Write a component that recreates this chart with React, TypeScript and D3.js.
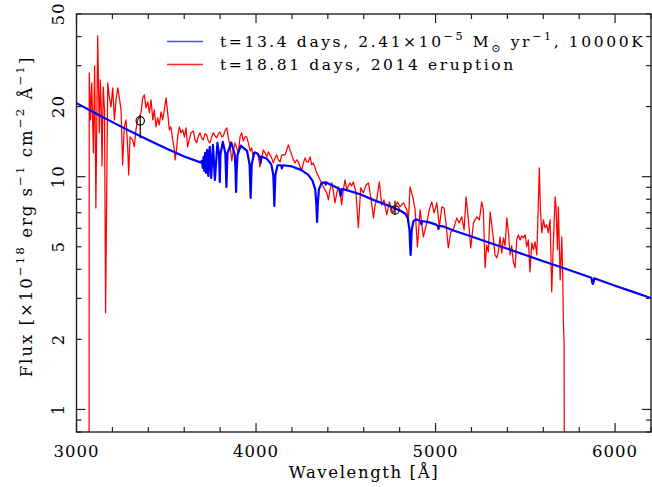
import React from 'react';
import * as d3 from 'd3';

const W = 652;
const H = 487;
const PL = 76.5, PR = 651, PT = 14, PB = 432;

const xDomain = [3000, 6200];
const yDomain = [0.8, 50];
const xLabelTicks = [3000, 4000, 5000, 6000];
const yLabelTicks = [1, 2, 5, 10, 20, 50];

// Model spectrum (blue)
const modelWave = [
  3000, 3100, 3200, 3300, 3400, 3500, 3600, 3690, 3697, 3704, 3708, 3712, 3717, 3722, 3728, 3734,
  3742, 3750, 3760, 3771, 3785, 3794, 3798, 3802, 3815, 3829, 3835, 3841, 3862, 3882, 3886, 3889,
  3892, 3897, 3915, 3950, 3964, 3967, 3970, 3973, 3976, 3990, 4010, 4022, 4026, 4030, 4060, 4085,
  4096, 4099, 4102, 4105, 4108, 4120, 4140, 4144, 4150, 4200, 4250, 4290, 4315, 4330, 4336, 4340,
  4344, 4350, 4365, 4385, 4388, 4392, 4440, 4464, 4468, 4471, 4474, 4478, 4500, 4580, 4653, 4728,
  4802, 4830, 4845, 4855, 4858, 4861, 4864, 4867, 4877, 4890, 4917, 4921, 4925, 4960, 5000, 5012,
  5016, 5020, 5040, 5100, 5200, 5300, 5400, 5500, 5600, 5700, 5800, 5868, 5873, 5876, 5879, 5884,
  6000, 6100, 6200,
];
const modelFlux = [
  20.7, 18.84, 17.16, 15.67, 14.39, 13.23, 12.21, 11.52, 11.69, 10.91, 12.17, 10.59, 12.66, 10.38, 13.04, 10.08,
  13.43, 9.88, 13.7, 9.69, 13.98, 12.5, 9.5, 12.5, 14.11, 12.6, 9.04, 12.6, 14.03, 12.4, 10.5, 8.6,
  10.5, 12.4, 13.6, 12.9, 11.3, 9.6, 8.11, 9.6, 11.3, 12.7, 12.55, 12.1, 11.5, 12.2, 11.95, 11.3,
  10.2, 8.9, 7.49, 8.9, 10.2, 11.2, 11.2, 10.85, 11.2, 11.07, 10.7, 10.2, 9.6, 8.8, 7.6, 6.39,
  7.6, 8.8, 9.4, 9.45, 9.25, 9.45, 9.05, 8.85, 8.5, 8.27, 8.5, 8.85, 8.78, 8.41, 7.95, 7.56,
  7.16, 6.95, 6.65, 5.9, 5.1, 4.61, 5.1, 5.9, 6.45, 6.56, 6.45, 6.25, 6.45, 6.38, 6.24, 6.15,
  5.96, 6.15, 6.12, 5.87, 5.53, 5.2, 4.9, 4.61, 4.33, 4.08, 3.84, 3.68, 3.5, 3.46, 3.5, 3.66,
  3.4, 3.2, 3.01,
];

// Observed spectrum (red)
const obsWave = [
  3070, 3071, 3078, 3085, 3094, 3101, 3108, 3118, 3127, 3133, 3138, 3142, 3149, 3156, 3162, 3174,
  3183, 3192, 3202, 3211, 3220, 3230, 3238, 3248, 3257, 3266, 3276, 3285, 3291, 3298, 3313, 3322,
  3331, 3341, 3350, 3359, 3369, 3378, 3387, 3397, 3406, 3415, 3425, 3433, 3443, 3452, 3461, 3471,
  3480, 3489, 3499, 3508, 3517, 3526, 3536, 3545, 3550, 3558, 3565, 3573, 3582, 3592, 3601, 3610,
  3619, 3628, 3638, 3651, 3660, 3670, 3679, 3688, 3697, 3706, 3716, 3725, 3734, 3744, 3753, 3762,
  3772, 3781, 3790, 3799, 3809, 3818, 3827, 3837, 3846, 3855, 3865, 3874, 3883, 3892, 3901, 3911,
  3920, 3929, 3939, 3948, 3957, 3967, 3976, 3985, 3994, 4004, 4013, 4022, 4032, 4041, 4050, 4060,
  4069, 4078, 4087, 4096, 4106, 4115, 4124, 4134, 4143, 4152, 4162, 4171, 4180, 4189, 4199, 4208,
  4217, 4227, 4236, 4245, 4255, 4264, 4273, 4282, 4291, 4301, 4310, 4319, 4329, 4338, 4347, 4357,
  4366, 4375, 4384, 4394, 4403, 4412, 4422, 4431, 4440, 4450, 4459, 4468, 4477, 4486, 4496, 4505,
  4514, 4524, 4533, 4542, 4557, 4570, 4583, 4598, 4613, 4626, 4639, 4654, 4663, 4672, 4687, 4700,
  4713, 4728, 4743, 4762, 4774, 4787, 4802, 4821, 4840, 4848, 4858, 4873, 4886, 4899, 4914, 4932,
  4951, 4965, 4979, 4992, 5007, 5021, 5035, 5047, 5058, 5071, 5085, 5099, 5118, 5131, 5146, 5159,
  5170, 5183, 5196, 5211, 5230, 5244, 5257, 5266, 5276, 5285, 5294, 5304, 5313, 5322, 5331, 5341,
  5350, 5359, 5369, 5378, 5387, 5397, 5406, 5415, 5424, 5433, 5443, 5452, 5461, 5471, 5480, 5489,
  5499, 5508, 5517, 5526, 5536, 5545, 5554, 5564, 5573, 5578, 5584, 5592, 5601, 5610, 5619, 5628,
  5638, 5647, 5656, 5666, 5671, 5679, 5684, 5694, 5703, 5709, 5712, 5716, 5718,
];
const obsFlux = [
  0.5, 27.93, 17.54, 25.3, 12.66, 29.94, 7.34, 40.28, 15.43, 26.06, 19.37, 11.13, 24.32, 19.37, 2.6, 25.3,
  22.02, 19.95, 24.07, 17.54, 21.38, 24.07, 22.02, 19.37, 11.24, 16.37, 17.54, 13.43, 10.18, 14.83, 14.39, 13.43,
  15.89, 17.54, 18.07, 18.8, 21.81, 22.46, 19.75, 20.96, 18.8, 21.38, 17.54, 19.37, 16.37, 17.89, 16.7, 18.99,
  17.54, 19.37, 21.81, 18.8, 15.89, 16.37, 14.39, 13.03, 11.81, 13.3, 15.12, 16.37, 15.43, 15.89, 14.83, 16.21,
  13.43, 14.39, 15.43, 15.73, 14.39, 13.98, 14.97, 15.43, 14.68, 14.39, 15.27, 15.12, 14.25, 13.98, 14.83, 15.43,
  14.97, 14.68, 15.27, 15.58, 14.83, 14.97, 15.73, 16.21, 14.68, 13.56, 11.69, 13.03, 13.98, 13.3, 12.66, 14.83,
  15.43, 14.25, 14.83, 14.83, 13.98, 12.91, 13.3, 12.05, 12.78, 12.66, 12.17, 11.02, 12.05, 13.03, 12.66, 12.17,
  12.78, 12.41, 12.05, 11.46, 12.05, 12.41, 11.81, 11.57, 12.41, 12.41, 12.41, 13.03, 13.7, 13.03, 12.41, 11.81,
  11.46, 11.81, 11.57, 11.02, 10.7, 11.46, 12.05, 11.57, 11.57, 12.17, 11.24, 11.46, 10.91, 10.38, 10.08, 9.69,
  9.4, 9.04, 8.78, 8.52, 7.95, 8.78, 9.4, 8.6, 7.72, 8.52, 9.04, 8.6, 7.56, 8.78, 9.69, 8.78,
  9.13, 9.4, 9.13, 9.5, 8.52, 6.03, 8.95, 8.52, 9.22, 9.4, 8.19, 6.65, 7.56, 7.95, 9.5, 7.56,
  7.95, 6.85, 7.79, 6.99, 7.34, 7.79, 7.42, 7.72, 7.2, 6.39, 9.04, 8.19, 7.2, 4.99, 7.2, 5.51,
  6.33, 7.2, 7.79, 6.99, 7.72, 6.08, 7.42, 7.34, 6.33, 4.94, 5.79, 5.91, 6.65, 6.33, 6.72, 5.91,
  8.19, 6.52, 4.94, 6.33, 6.72, 6.52, 7.79, 7.2, 4.06, 5.09, 4.75, 7.06, 6.21, 5.46, 4.61, 4.48,
  4.75, 5.51, 4.7, 5.46, 5.04, 6.65, 5.74, 4.61, 5.04, 4.31, 4.06, 5.35, 5.62, 5.35, 5.57, 5.46,
  5.62, 4.99, 5.35, 3.9, 5.19, 4.85, 5.25, 4.61, 7.95, 10.91, 7.2, 5.74, 6.52, 6.03, 6.21, 5.74,
  6.52, 3.2, 5.19, 8.19, 7.42, 4.85, 7.42, 3.6, 5.51, 3.5, 2.35, 1.93, 0.3,
];

// Photometric points (black circles)
const photWave = [3355, 4774];
const photFlux = [17.37, 7.2];
const photLo = [14.64, 6.85];
const photHi = [18.43, 7.89];

const legendLabels = ['model', 'observed'];
const legendColors = ['#4d4dff', '#ff2a2a'];

const FONT = "'DejaVu Serif', serif";

type Seg = { t: string; s?: 'sup' | 'sub' };

function RichText({ segs, size, ls }: { segs: Seg[]; size: number; ls: number }) {
  const small = size * 0.72;
  const out: React.ReactNode[] = [];
  let shift = 0;
  segs.forEach((sg, i) => {
    let target = 0;
    if (sg.s === 'sup') target = -size * 0.45;
    if (sg.s === 'sub') target = size * 0.3;
    const dy = target - shift;
    shift = target;
    out.push(
      <tspan key={i} dy={dy} fontSize={sg.s ? small : size} letterSpacing={ls}>
        {sg.t}
      </tspan>
    );
  });
  return <>{out}</>;
}

export default function App() {
  const x = d3.scaleLinear().domain(xDomain).range([PL, PR]);
  const y = d3.scaleLog().domain(yDomain).range([PB, PT]);

  const modelPath = d3
    .line<number>()
    .x((d) => x(d))
    .y((_, i) => y(modelFlux[i]))(modelWave) as string;
  const obsPath = d3
    .line<number>()
    .x((d) => x(d))
    .y((_, i) => y(Math.max(obsFlux[i], 0.01)))(obsWave) as string;

  const xMinor = d3.range(3000, 6201, 200);
  const yTicks = y.ticks(20).filter((v) => v >= 0.8 && v <= 50);
  const isDecade = (v: number) => Math.abs(Math.log10(v) - Math.round(Math.log10(v))) < 1e-6;

  const axisColor = '#222';
  const tickSize = 16.5;

  const yLabelSegs: Seg[] = [
    { t: 'Flux [×10' },
    { t: '−18', s: 'sup' },
    { t: ' erg s' },
    { t: '−1', s: 'sup' },
    { t: ' cm' },
    { t: '−2', s: 'sup' },
    { t: ' Å' },
    { t: '−1', s: 'sup' },
    { t: ']' },
  ];
  const leg1: Seg[] = [
    { t: 't=13.4 days, 2.41×10' },
    { t: '−5', s: 'sup' },
    { t: ' M' },
    { t: '⊙', s: 'sub' },
    { t: ' yr' },
    { t: '−1', s: 'sup' },
    { t: ', 10000K' },
  ];
  const leg2: Seg[] = [{ t: 't=18.81 days, 2014 eruption' }];
  const legendRows = [
    { segs: leg1, y: 41.5 },
    { segs: leg2, y: 64.5 },
  ];

  return (
    <svg
      width={W}
      height={H}
      viewBox={`0 0 ${W} ${H}`}
      style={{ position: 'absolute', left: 0, top: 0, background: '#fff' }}
      fontFamily={FONT}
    >
      <rect x={0} y={0} width={W} height={H} fill="#fff" />
      <defs>
        <clipPath id="plotclip">
          <rect x={PL} y={PT} width={PR - PL} height={PB - PT} />
        </clipPath>
      </defs>

      <g clipPath="url(#plotclip)">
        <path d={obsPath} fill="none" stroke="#ff0000" strokeWidth={1.25} strokeLinejoin="round" />
        <path d={modelPath} fill="none" stroke="#0000ff" strokeWidth={2.2} strokeLinejoin="round" />
        {photWave.map((w, i) => (
          <g key={i}>
            <line x1={x(w)} x2={x(w)} y1={y(photHi[i])} y2={y(photLo[i])} stroke="#000" strokeWidth={1.2} />
            <circle cx={x(w)} cy={y(photFlux[i])} r={4.2} fill="none" stroke="#000" strokeWidth={1.1} />
          </g>
        ))}
      </g>

      {/* frame */}
      <rect x={PL} y={PT} width={PR - PL} height={PB - PT} fill="none" stroke={axisColor} strokeWidth={1.4} />

      {/* x ticks */}
      {xMinor.map((v) => {
        const len = v % 1000 === 0 ? 9 : 5;
        return (
          <g key={'xt' + v}>
            <line x1={x(v)} x2={x(v)} y1={PB} y2={PB - len} stroke={axisColor} strokeWidth={1.2} />
            <line x1={x(v)} x2={x(v)} y1={PT} y2={PT + len} stroke={axisColor} strokeWidth={1.2} />
          </g>
        );
      })}
      {/* y ticks */}
      {yTicks.map((v) => {
        const len = isDecade(v) ? 9 : 5;
        return (
          <g key={'yt' + v}>
            <line x1={PL} x2={PL + len} y1={y(v)} y2={y(v)} stroke={axisColor} strokeWidth={1.2} />
            <line x1={PR} x2={PR - len} y1={y(v)} y2={y(v)} stroke={axisColor} strokeWidth={1.2} />
          </g>
        );
      })}

      {/* x tick labels */}
      {xLabelTicks.map((v) => (
        <text key={'xl' + v} x={x(v)} y={457} textAnchor="middle" fontSize={tickSize} letterSpacing={1} fill="#000">
          {v}
        </text>
      ))}
      {/* y tick labels */}
      {yLabelTicks.map((v) => (
        <text
          key={'yl' + v}
          transform={`translate(63.5,${y(v)}) rotate(-90)`}
          textAnchor="middle"
          fontSize={tickSize}
          letterSpacing={1}
          fill="#000"
        >
          {v}
        </text>
      ))}

      {/* axis titles */}
      <text x={364} y={478} textAnchor="middle" fontSize={tickSize} letterSpacing={1.6} fill="#000">
        Wavelength [Å]
      </text>
      <text transform="translate(31.5,216.5) rotate(-90)" textAnchor="middle" fill="#000">
        <RichText segs={yLabelSegs} size={tickSize} ls={2.0} />
      </text>

      {/* legend */}
      {legendRows.map((r, i) => (
        <g key={legendLabels[i]}>
          <line x1={167} x2={203} y1={r.y} y2={r.y} stroke={legendColors[i]} strokeWidth={1.3} />
          <text x={220} y={r.y + 5.5} fill="#000">
            <RichText segs={r.segs} size={15.5} ls={2.6} />
          </text>
        </g>
      ))}
    </svg>
  );
}
